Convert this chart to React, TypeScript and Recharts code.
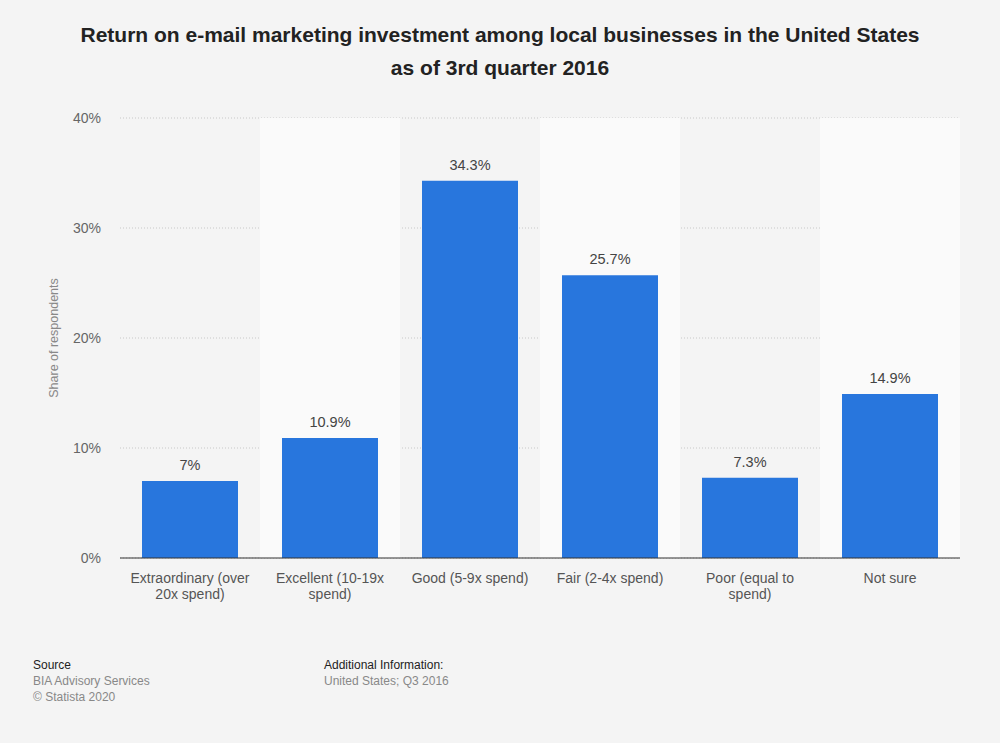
import { BarChart, Bar, XAxis, YAxis, CartesianGrid, LabelList, ReferenceArea, Text } from "recharts";

const categories = [
  "Extraordinary (over 20x spend)",
  "Excellent (10-19x spend)",
  "Good (5-9x spend)",
  "Fair (2-4x spend)",
  "Poor (equal to spend)",
  "Not sure",
];
const shares = [7, 10.9, 34.3, 25.7, 7.3, 14.9];
const yTicks = [0, 10, 20, 30, 40];

const data = categories.map((name, i) => ({ name, value: shares[i] }));
const bands = categories.filter((_, i) => i % 2 === 1);

const FONT = '"Liberation Sans", Arial, Helvetica, sans-serif';

const CategoryTick = (props: any) => {
  const { x, y, payload } = props;
  return (
    <Text
      x={x}
      y={y + 7}
      width={132}
      textAnchor="middle"
      verticalAnchor="start"
      lineHeight={16}
      fontSize={14}
      fontFamily={FONT}
      fill="#555"
    >
      {payload.value}
    </Text>
  );
};

const App = () => {
  return (
    <div
      style={{
        position: "absolute",
        top: 0,
        left: 0,
        width: 1000,
        height: 743,
        background: "#f4f4f4",
        fontFamily: FONT,
      }}
    >
      <div
        style={{
          position: "absolute",
          top: 18,
          left: 0,
          width: 1000,
          textAlign: "center",
          fontSize: 21,
          fontWeight: "bold",
          lineHeight: "33px",
          color: "#222",
        }}
      >
        Return on e-mail marketing investment among local businesses in the United States
        <br />
        as of 3rd quarter 2016
      </div>
      <BarChart
        width={1000}
        height={743}
        data={data}
        margin={{ top: 118, right: 40, bottom: 155, left: 50 }}
        style={{ position: "absolute", top: 0, left: 0 }}
      >
        {bands.map((b) => (
          <ReferenceArea key={b} x1={b} x2={b} fill="#fafafa" fillOpacity={1} stroke="none" ifOverflow="extendDomain" />
        ))}
        <CartesianGrid vertical={false} stroke="#c8c8c8" strokeDasharray="1 2" />
        <XAxis
          dataKey="name"
          interval={0}
          tickLine={false}
          axisLine={{ stroke: "#333", strokeWidth: 1 }}
          tick={<CategoryTick />}
        />
        <YAxis
          width={70}
          domain={[0, 40]}
          ticks={yTicks}
          tickFormatter={(v) => `${v}%`}
          axisLine={false}
          tickLine={false}
          tickMargin={13}
          tick={{ fill: "#666", fontSize: 14, fontFamily: FONT }}
          label={{
            value: "Share of respondents",
            angle: -90,
            position: "insideLeft",
            offset: 4,
            style: { textAnchor: "middle", fill: "#888", fontSize: 12.5, fontFamily: FONT },
          }}
        />
        <Bar dataKey="value" fill="#2876dd" barSize={96} isAnimationActive={false}>
          <LabelList
            dataKey="value"
            position="top"
            offset={11}
            formatter={(v: any) => `${v}%`}
            style={{ fill: "#444", fontSize: 14.5, fontFamily: FONT }}
          />
        </Bar>
      </BarChart>
      <div style={{ position: "absolute", top: 657, left: 33, fontSize: 12, lineHeight: "16px" }}>
        <div style={{ color: "#222" }}>Source</div>
        <div style={{ color: "#888" }}>BIA Advisory Services</div>
        <div style={{ color: "#888" }}>© Statista 2020</div>
      </div>
      <div style={{ position: "absolute", top: 657, left: 324, fontSize: 12, lineHeight: "16px" }}>
        <div style={{ color: "#222" }}>Additional Information:</div>
        <div style={{ color: "#888" }}>United States; Q3 2016</div>
      </div>
    </div>
  );
};

export default App;
